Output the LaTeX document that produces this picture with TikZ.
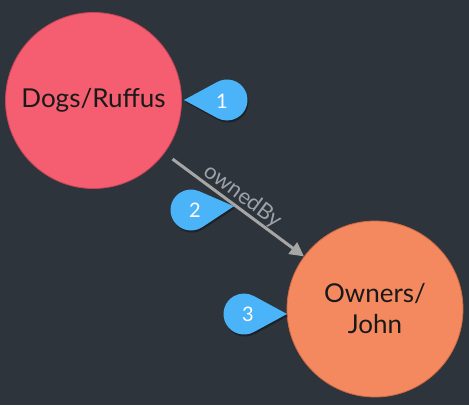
\documentclass[tikz,border=0pt]{standalone}
\usepackage{fontspec}
\setmainfont{Lato}
\usetikzlibrary{arrows.meta,calc}
\definecolor{bg}{HTML}{2E343B}
\definecolor{dogfill}{HTML}{F45E70}
\definecolor{dogline}{HTML}{C8465A}
\definecolor{ownfill}{HTML}{F4895F}
\definecolor{ownline}{HTML}{CF6A45}
\definecolor{relcol}{HTML}{A6A6A6}
\definecolor{calloutcol}{HTML}{4BB4F8}
\definecolor{labelcol}{HTML}{9CA2A8}
\tikzset{
  entity/.style={circle, minimum size=176pt, inner sep=0pt, line width=0.8pt,
    font=\fontsize{26}{31}\selectfont, text=black!90, align=center},
  rel/.style={draw=relcol, line width=3pt, -{Triangle[length=14pt,width=14pt]}},
  rellabel/.style={font=\fontsize{22}{24}\selectfont, text=labelcol, inner sep=0pt},
  callouttext/.style={font=\fontsize{20}{22}\selectfont, text=white, inner sep=0pt},
}
\newcommand{\mycallout}[4]{% cx, cy, angle
  \fill[black, opacity=0.35, xshift=1pt, yshift=-2pt]
    (#1,#2) ++(#3+61:20.5) arc[start angle=#3+61, end angle=#3+299, radius=20.5]
    -- ($(#1,#2)+(#3:43)$) -- cycle;
  \fill[calloutcol]
    (#1,#2) ++(#3+61:20.5) arc[start angle=#3+61, end angle=#3+299, radius=20.5]
    -- ($(#1,#2)+(#3:43)$) -- cycle;
}
\begin{document}
\begin{tikzpicture}[x=1pt,y=-1pt]
\fill[bg] (0,0) rectangle (469,405);
\useasboundingbox (0,0) rectangle (469,405);
\node[entity, fill=dogfill, draw=dogline] (dogs) at (93.5,100.5) {Dogs/Ruffus};
\node[entity, fill=ownfill, draw=ownline] (owners) at (375,309) {Owners/\\John};
\draw[rel, shorten <=10pt] (dogs) -- node[rellabel, sloped, above=0.5pt, pos=0.51] (lbl) {ownedBy} (owners);
\mycallout{227}{100}{180}{}
\node[callouttext] (n1) at (222,101) {1};
\mycallout{191}{210}{-5}{}
\node[callouttext] (n2) at (195,210) {2};
\mycallout{244}{314}{0}{}
\node[callouttext] (n3) at (248,314) {3};
\end{tikzpicture}
\end{document}
